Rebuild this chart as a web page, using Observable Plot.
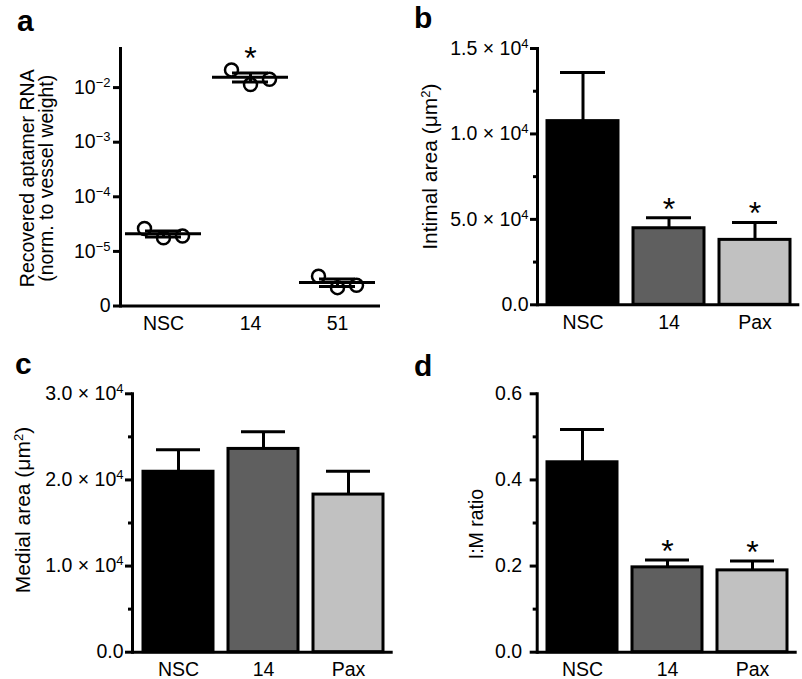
<!DOCTYPE html>
<html><head><meta charset="utf-8">
<script src="https://cdn.jsdelivr.net/npm/d3@7"></script>
<script src="https://cdn.jsdelivr.net/npm/@observablehq/plot@0.6"></script>
<style>
body{margin:0;background:#fff;}
#fig{position:relative;width:802px;height:679px;font-family:"Liberation Sans",Arial,Helvetica,sans-serif;color:#000;}
.panel{position:absolute;}
.letter{position:absolute;font-weight:bold;font-size:30px;line-height:30px;}
</style></head><body>
<div id="fig">
  <div class="panel" id="pa" style="left:0;top:0"></div>
  <div class="panel" id="pb" style="left:400px;top:0"></div>
  <div class="panel" id="pc" style="left:0;top:330px"></div>
  <div class="panel" id="pd" style="left:400px;top:330px"></div>
  <div class="letter" style="left:17px;top:6px">a</div>
  <div class="letter" style="left:414px;top:3px">b</div>
  <div class="letter" style="left:15px;top:349px">c</div>
  <div class="letter" style="left:414px;top:351px">d</div>
</div>
<script>
// ---------- data ----------
const groupsA = ["NSC", "14", "51"];
const rnaNSC = [2.62e-5, 1.77e-5, 1.92e-5];
const rna14 = [0.0211, 0.01135, 0.0142];
const rna51 = [3.51e-6, 2.17e-6, 2.40e-6];
const rnaSig = ["", "*", ""];
const rnaTicks = [1e-6, 1e-5, 1e-4, 1e-3, 1e-2];
const rnaTickLabels = ["0", "10^{−5}", "10^{−4}", "10^{−3}", "10^{−2}"];

const groups = ["NSC", "14", "Pax"];
const intimalMean = [10750, 4480, 3800];
const intimalSem = [2850, 610, 1010];
const intimalSig = ["", "*", "*"];
const intimalTicks = [0, 5000, 10000, 15000];
const intimalMinor = [2500, 7500, 12500];
const intimalTickLabels = ["0.0", "5.0 × 10^{4}", "1.0 × 10^{4}", "1.5 × 10^{4}"];

const medialMean = [20950, 23600, 18300];
const medialSem = [2550, 2000, 2700];
const medialSig = ["", "", ""];
const medialTicks = [0, 10000, 20000, 30000];
const medialMinor = [5000, 15000, 25000];
const medialTickLabels = ["0.0", "1.0 × 10^{4}", "2.0 × 10^{4}", "3.0 × 10^{4}"];

const ratioMean = [0.441, 0.197, 0.190];
const ratioSem = [0.076, 0.017, 0.022];
const ratioSig = ["", "*", "*"];
const ratioTicks = [0, 0.2, 0.4, 0.6];
const ratioMinor = [0.1, 0.3, 0.5];
const ratioTickLabels = ["0.0", "0.2", "0.4", "0.6"];

// ---------- styles ----------
const barColors = ["#000000", "#5f5f5f", "#c1c1c1"];
const jitter = [-19, 0, 19];
const FONT = "'Liberation Sans', Arial, Helvetica, sans-serif";
const baseStyle = {fontFamily: FONT, fontSize: "19.5px", background: "transparent", color: "#000", overflow: "visible"};

function supers(svg) {
  const NS = "http://www.w3.org/2000/svg";
  svg.querySelectorAll("text").forEach(t => {
    if (t.children.length) return;
    const s = t.textContent;
    if (!s.includes("^{")) return;
    const parts = s.split(/\^\{([^}]*)\}/);
    t.textContent = "";
    let raised = false;
    parts.forEach((p, i) => {
      if (!p) return;
      const ts = document.createElementNS(NS, "tspan");
      ts.textContent = p;
      if (i % 2 === 1) { ts.setAttribute("font-size", "13"); ts.setAttribute("dy", "-7"); raised = true; }
      else if (raised) { ts.setAttribute("dy", "7"); raised = false; }
      t.appendChild(ts);
    });
  });
}

function yAxes(ticks, labels, minor, tickPadding) {
  const fmt = new Map(ticks.map((t, i) => [t, labels[i]]));
  const m = [Plot.axisY({ticks, tickFormat: d => fmt.get(d), tickSize: 7, tickPadding, strokeWidth: 3, label: null})];
  if (minor) m.push(Plot.axisY({ticks: minor, tickFormat: () => "", tickSize: 4, strokeWidth: 3, label: null}));
  return m;
}

// ---------- panel a ----------
(function () {
  const series = [rnaNSC, rna14, rna51];
  const rows = [];
  series.forEach((vals, gi) => vals.forEach((v, ri) => rows.push({group: groupsA[gi], rep: ri, value: v})));
  const stats = groupsA.map((g, gi) => {
    const vals = series[gi];
    const m = d3.mean(vals), s = d3.deviation(vals) / Math.sqrt(vals.length);
    return {group: g, mean: m, lo: m - s, hi: m + s, max: d3.max(vals), sig: rnaSig[gi]};
  });
  const svg = Plot.plot({
    width: 402, height: 330, marginLeft: 120, marginRight: 22, marginTop: 48, marginBottom: 24.5,
    style: baseStyle,
    x: {type: "band", domain: groupsA, paddingInner: 0.126, paddingOuter: 0.057, label: null},
    y: {type: "log", domain: [1e-6, 0.052], label: null},
    marks: [
      ...[0, 1, 2].map(r => Plot.dot(rows.filter(d => d.rep === r), {x: "group", y: "value", r: 6.5, stroke: "black", strokeWidth: 2.5, fill: "none", dx: jitter[r]})),
      Plot.ruleX(stats, {x: "group", y1: "lo", y2: "hi", strokeWidth: 3}),
      Plot.tickY(stats, {x: "group", y: "lo", strokeWidth: 3, insetLeft: 20, insetRight: 20}),
      Plot.tickY(stats, {x: "group", y: "hi", strokeWidth: 3, insetLeft: 20, insetRight: 20}),
      Plot.tickY(stats, {x: "group", y: "mean", strokeWidth: 3}),
      Plot.text(stats, {x: "group", y: "max", text: "sig", fontSize: 32, dy: -11}),
      Plot.ruleY([1e-6], {strokeWidth: 3}),
      Plot.frame({anchor: "left", strokeWidth: 3}),
      ...yAxes(rnaTicks, rnaTickLabels, null, 3),
      Plot.axisX({tickSize: 0, tickPadding: 10, label: null}),
      Plot.text(["Recovered aptamer RNA\n(norm. to vessel weight)"], {frameAnchor: "left", textAnchor: "middle", rotate: -90, dx: -83, dy: 1, lineHeight: 0.95, fontSize: 19.5})
    ]
  });
  supers(svg);
  document.getElementById("pa").appendChild(svg);
})();

// ---------- bar panels ----------
function barPanel(el, o) {
  const rows = groups.map((g, i) => ({group: g, mean: o.means[i], top: o.means[i] + o.sems[i], sig: o.sigs[i]}));
  const svg = Plot.plot({
    width: 402, height: o.height, marginLeft: o.ml, marginRight: o.mr, marginTop: o.mt, marginBottom: o.mb,
    style: baseStyle,
    x: {type: "band", domain: groups, paddingInner: 0.18, paddingOuter: 0.11, label: null},
    y: {domain: o.yDomain, label: null},
    color: {domain: groups, range: barColors},
    marks: [
      Plot.ruleX(rows, {x: "group", y1: "mean", y2: "top", strokeWidth: 3}),
      Plot.tickY(rows, {x: "group", y: "top", strokeWidth: 3, insetLeft: 13, insetRight: 13}),
      Plot.barY(rows, {x: "group", y: "mean", fill: "group", stroke: "black", strokeWidth: 3}),
      Plot.text(rows, {x: "group", y: "top", text: "sig", fontSize: 32, dy: -8.5}),
      Plot.ruleY([o.yDomain[0]], {strokeWidth: 3}),
      Plot.frame({anchor: "left", strokeWidth: 3}),
      ...yAxes(o.ticks, o.tickLabels, o.minor, o.tp),
      Plot.axisX({tickSize: 0, tickPadding: 10, label: null}),
      Plot.text([o.label], {frameAnchor: "left", textAnchor: "middle", rotate: -90, dx: o.ldx, dy: o.ldy, fontSize: o.lfs})
    ]
  });
  supers(svg);
  document.getElementById(el).appendChild(svg);
}

barPanel("pb", {means: intimalMean, sems: intimalSem, sigs: intimalSig, yDomain: [0, 15000], ticks: intimalTicks, tickLabels: intimalTickLabels, minor: intimalMinor,
  label: "Intimal area (μm^{2})", height: 330, ml: 137, mr: 2.7, mt: 48, mb: 25.7, tp: 2, ldx: -107, ldy: -10, lfs: 21});
barPanel("pc", {means: medialMean, sems: medialSem, sigs: medialSig, yDomain: [0, 30000], ticks: medialTicks, tickLabels: medialTickLabels, minor: medialMinor,
  label: "Medial area (μm^{2})", height: 349, ml: 132, mr: 9.3, mt: 63.3, mb: 27.3, tp: 2, ldx: -109, ldy: -13, lfs: 21});
barPanel("pd", {means: ratioMean, sems: ratioSem, sigs: ratioSig, yDomain: [0, 0.6], ticks: ratioTicks, tickLabels: ratioTickLabels, minor: ratioMinor,
  label: "I:M ratio", height: 349, ml: 136.7, mr: 5.3, mt: 63.3, mb: 27.3, tp: 8, ldx: -60, ldy: 1, lfs: 19.5});
</script>
</body></html>
